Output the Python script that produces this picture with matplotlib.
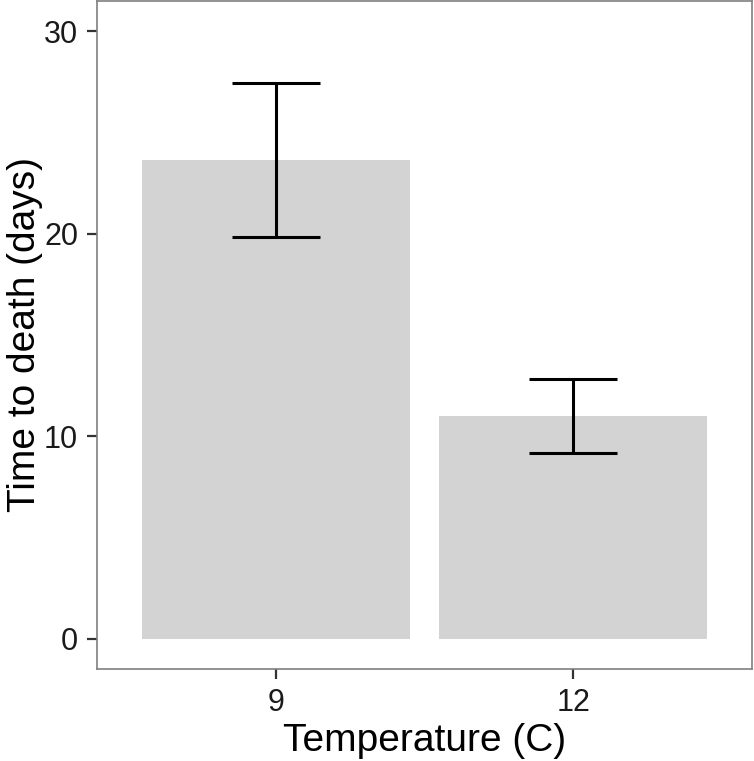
import matplotlib
matplotlib.use("Agg")
import matplotlib.pyplot as plt

temps = ["9", "12"]
means = [23.63, 10.97]
err_low = [19.82, 9.19]
err_high = [27.42, 12.80]

plt.rcParams['font.family'] = ['Liberation Sans', 'DejaVu Sans']

fig = plt.figure(figsize=(7.54, 7.61), dpi=100)
ax = fig.add_axes([97/754, 1 - 669/761, (752 - 97)/754, 669/761 - 0.001])

x = list(range(len(temps)))
ax.bar(x, means, width=0.9, color='#d3d3d3', zorder=1)

lo = [m - l for m, l in zip(means, err_low)]
hi = [h - m for m, h in zip(means, err_high)]
ax.errorbar(x, means, yerr=[lo, hi], fmt='none', ecolor='black',
            elinewidth=2.2, capsize=32, capthick=2.2, zorder=2)

ax.set_xlim(-0.6, 1.6)
ax.set_ylim(-1.5, 31.5)
ax.set_xticks(x)
ax.set_xticklabels(temps)
ax.set_yticks([0, 10, 20, 30])

for s in ax.spines.values():
    s.set_color('#7f7f7f')
    s.set_linewidth(1.2)

ax.tick_params(axis='both', length=7.5, width=1.6, color='#333333',
               labelsize=22, labelcolor='#1a1a1a', pad=6)

ax.set_xlabel('Temperature (C)', fontsize=28, labelpad=4)
ax.set_ylabel('Time to death (days)', fontsize=28, labelpad=1)

fig.savefig('out.png', dpi=100)
